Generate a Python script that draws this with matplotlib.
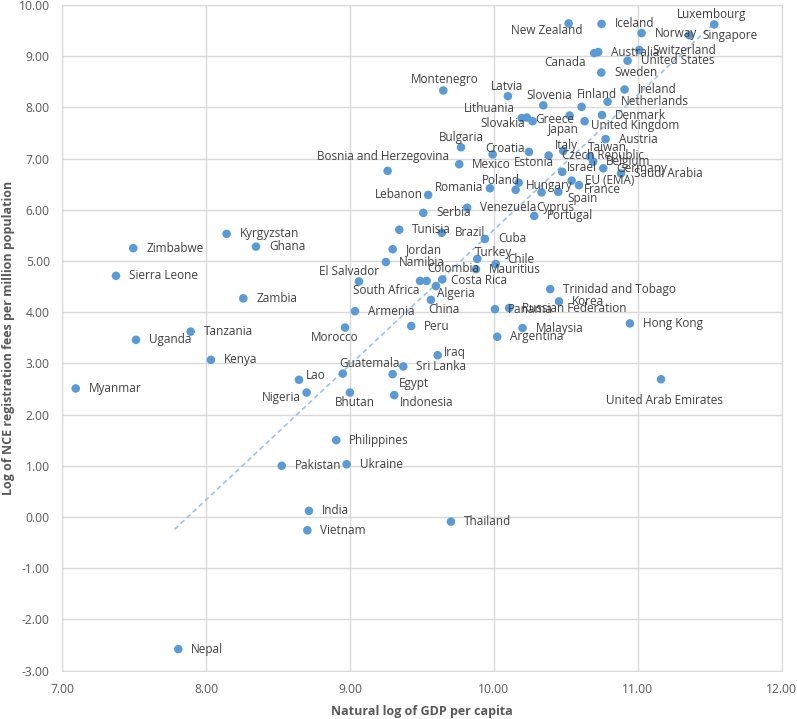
import numpy as np
import matplotlib
matplotlib.use("Agg")
import matplotlib.pyplot as plt

# Werte
countries = [
    "New Zealand", "Iceland", "Luxembourg", "Norway", "Singapore", "Canada",
    "Australia", "Switzerland", "United States", "Sweden", "Ireland", "Netherlands",
    "Montenegro", "Latvia", "Slovenia", "Finland", "Lithuania", "Slovakia",
    "Greece", "Japan", "United Kingdom", "Denmark", "Austria", "Bulgaria",
    "Croatia", "Estonia", "Czech Republic", "Italy", "Taiwan", "Belgium",
    "Germany", "Saudi Arabia", "Israel", "EU (EMA)", "France", "Mexico",
    "Bosnia and Herzegovina", "Lebanon", "Romania", "Poland", "Hungary", "Cyprus",
    "Spain", "Serbia", "Venezuela", "Portugal", "Tunisia", "Brazil",
    "Cuba", "Kyrgyzstan", "Zimbabwe", "Ghana", "Jordan", "Namibia",
    "Turkey", "Chile", "Mauritius", "Sierra Leone", "El Salvador", "South Africa",
    "Colombia", "Costa Rica", "Algeria", "Zambia", "Armenia", "China",
    "Trinidad and Tobago", "Korea", "Russian Federation", "Panama", "Tanzania", "Uganda",
    "Morocco", "Peru", "Malaysia", "Hong Kong", "Argentina", "Kenya",
    "Iraq", "Guatemala", "Sri Lanka", "Lao", "Myanmar", "Egypt",
    "Nigeria", "Bhutan", "Indonesia", "United Arab Emirates", "Philippines", "Pakistan",
    "Ukraine", "India", "Vietnam", "Thailand", "Nepal",
]
ln_gdp = [
    10.519, 10.748, 11.531, 11.026, 11.357, 10.697,
    10.725, 11.010, 10.929, 10.746, 10.908, 10.790,
    9.648, 10.097, 10.343, 10.609, 10.193, 10.229,
    10.269, 10.526, 10.630, 10.751, 10.776, 9.771,
    9.991, 10.243, 10.380, 10.482, 10.667, 10.690,
    10.760, 10.883, 10.475, 10.540, 10.591, 9.759,
    9.261, 9.543, 9.972, 10.172, 10.151, 10.331,
    10.447, 9.509, 9.814, 10.280, 9.342, 9.637,
    9.937, 8.142, 7.493, 8.346, 9.296, 9.249,
    9.884, 10.012, 9.875, 7.373, 9.062, 9.486,
    9.532, 9.641, 9.597, 8.258, 9.034, 9.562,
    10.391, 10.452, 10.106, 10.007, 7.892, 7.512,
    8.965, 9.425, 10.199, 10.945, 10.023, 8.033,
    9.609, 8.949, 9.370, 8.645, 7.093, 9.296,
    8.698, 8.999, 9.307, 11.161, 8.904, 8.525,
    8.976, 8.714, 8.703, 9.701, 7.806,
]
ln_fees = [
    9.64, 9.63, 9.62, 9.45, 9.41, 9.06,
    9.08, 9.12, 8.91, 8.68, 8.35, 8.11,
    8.33, 8.22, 8.04, 8.01, 7.79, 7.80,
    7.73, 7.84, 7.73, 7.85, 7.38, 7.22,
    7.08, 7.13, 7.06, 7.15, 7.04, 6.94,
    6.81, 6.71, 6.74, 6.57, 6.48, 6.89,
    6.76, 6.29, 6.42, 6.53, 6.39, 6.34,
    6.35, 5.94, 6.04, 5.88, 5.61, 5.55,
    5.43, 5.53, 5.25, 5.28, 5.23, 4.98,
    5.04, 4.94, 4.84, 4.71, 4.60, 4.61,
    4.61, 4.64, 4.51, 4.27, 4.02, 4.24,
    4.45, 4.21, 4.08, 4.06, 3.62, 3.46,
    3.70, 3.73, 3.69, 3.78, 3.52, 3.07,
    3.16, 2.80, 2.94, 2.68, 2.51, 2.79,
    2.43, 2.43, 2.38, 2.69, 1.50, 1.00,
    1.03, 0.12, -0.26, -0.09, -2.58,
]

trend_slope = 2.636
trend_intercept = -20.75
trend_x_start = 7.78

# Beschriftungen, die nicht rechts neben dem Punkt stehen: (dx, dy, ha) in Pixeln
label_pos = {
    "New Zealand": (-22, -7, "center"),
    "Canada": (-8, -9, "right"),
    "Luxembourg": (-3, 10, "center"),
    "Montenegro": (1, 11, "center"),
    "Latvia": (-1, 10, "center"),
    "Slovenia": (6, 10, "center"),
    "Finland": (15, 12, "center"),
    "Lithuania": (-32, 10, "center"),
    "Slovakia": (-24, -6, "center"),
    "Greece": (3, 2, "left"),
    "Japan": (-6, -14, "center"),
    "United Kingdom": (6, -4, "left"),
    "Bulgaria": (0, 10, "center"),
    "Bosnia and Herzegovina": (-5, 14, "center"),
    "Croatia": (12, 6, "center"),
    "Estonia": (5, -11, "center"),
    "Italy": (3, 5, "center"),
    "Taiwan": (17, 9, "center"),
    "Israel": (5, 4, "left"),
    "France": (5, -4, "left"),
    "Spain": (9, -7, "left"),
    "Lebanon": (-5, 0, "right"),
    "Romania": (-7, 1, "right"),
    "Poland": (1, 2, "right"),
    "Hungary": (10, 4, "left"),
    "Cyprus": (14, -15, "center"),
    "Turkey": (-2, 6, "left"),
    "Chile": (12, 5, "left"),
    "Colombia": (1, 12, "left"),
    "South Africa": (0, -10, "right"),
    "El Salvador": (-10, 10, "center"),
    "Costa Rica": (9, -1, "left"),
    "Algeria": (1, -7, "left"),
    "China": (-3, -10, "left"),
    "Morocco": (-10, -10, "center"),
    "Iraq": (6, 3, "left"),
    "Egypt": (6, -9, "left"),
    "Indonesia": (6, -7, "left"),
    "United Arab Emirates": (4, -21, "center"),
    "Guatemala": (-3, 10, "left"),
    "Lao": (7, 4, "left"),
    "Nigeria": (-6, -5, "right"),
    "Bhutan": (5, -10, "center"),
}

plt.rcParams["font.family"] = ["Open Sans", "DejaVu Sans"]

fig = plt.figure(figsize=(7.97, 7.19), dpi=100)
ax = fig.add_axes([0.0782, 0.0673, 0.9026, 0.9258])

ax.scatter(ln_gdp, ln_fees, s=38, color="#5b9bd5", edgecolors="none", zorder=3)

tx = np.array([trend_x_start, max(ln_gdp)])
ax.plot(tx, trend_slope * tx + trend_intercept, linestyle=(0, (3, 2)),
        color="#9dc3e6", linewidth=1.2, zorder=2)

for name, x, y in zip(countries, ln_gdp, ln_fees):
    dx, dy, ha = label_pos.get(name, (13, 0, "left"))
    ax.annotate(name, (x, y), xytext=(dx, dy), textcoords="offset pixels",
                ha=ha, va="center", fontsize=8.5, color="#404040", zorder=4)

ax.set_xlim(7, 12)
ax.set_ylim(-3, 10)
ax.set_xticks(np.arange(7, 12.01, 1))
ax.set_yticks(np.arange(-3, 10.01, 1))
ax.xaxis.set_major_formatter(lambda v, p: f"{v:.2f}")
ax.yaxis.set_major_formatter(lambda v, p: f"{v:.2f}")
ax.tick_params(length=0, labelsize=8.7, colors="#595959")
ax.tick_params(axis="x", pad=9)
ax.tick_params(axis="y", pad=9)
ax.grid(True, color="#d9d9d9", linewidth=1)
ax.set_axisbelow(True)
for s in ax.spines.values():
    s.set_color("#d9d9d9")

fig.text(422 / 797, 1 - 711 / 719, "Natural log of GDP per capita", fontsize=9,
         fontweight="bold", color="#595959", ha="center", va="center")
fig.text(9 / 797, 1 - 338 / 719, "Log of NCE registration fees per million population",
         fontsize=9, fontweight="bold", color="#595959", ha="center", va="center",
         rotation=90)

fig.savefig("out.png", dpi=100)
